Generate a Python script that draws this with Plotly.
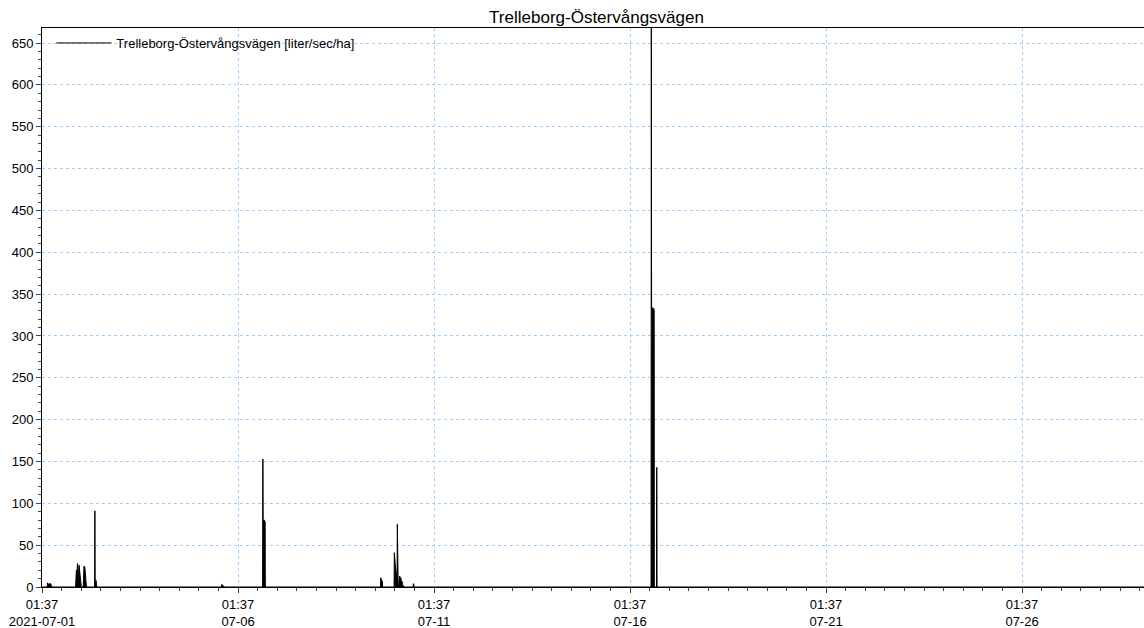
import plotly.graph_objects as go

station = "Trelleborg-Östervångsvägen"
unit = "liter/sec/ha"

# Runoff per hectare, explicit readings (zero between rain events)
times = [
    "2021-07-01 01:37",
    # 1 July, early morning drizzle
    "2021-07-01 04:50", "2021-07-01 05:00", "2021-07-01 05:30", "2021-07-01 06:10",
    "2021-07-01 06:50", "2021-07-01 07:20", "2021-07-01 07:40",
    # 1-2 July, night shower
    "2021-07-01 22:10", "2021-07-01 22:25", "2021-07-01 22:40", "2021-07-01 23:00",
    "2021-07-01 23:20", "2021-07-01 23:40", "2021-07-02 00:00", "2021-07-02 00:20",
    "2021-07-02 00:40", "2021-07-02 01:00", "2021-07-02 01:20", "2021-07-02 01:40",
    "2021-07-02 02:50", "2021-07-02 03:00", "2021-07-02 03:20", "2021-07-02 03:50",
    "2021-07-02 04:10", "2021-07-02 04:30", "2021-07-02 04:50",
    # 2 July, morning burst
    "2021-07-02 09:50", "2021-07-02 10:00", "2021-07-02 10:10", "2021-07-02 10:40",
    "2021-07-02 11:00", "2021-07-02 11:10",
    # 5 July
    "2021-07-05 15:30", "2021-07-05 15:40", "2021-07-05 16:20", "2021-07-05 17:00",
    "2021-07-05 17:20",
    # 6 July
    "2021-07-06 16:40", "2021-07-06 16:50", "2021-07-06 17:00", "2021-07-06 17:40",
    "2021-07-06 18:15", "2021-07-06 18:20",
    # 9 July
    "2021-07-09 16:50", "2021-07-09 17:00", "2021-07-09 17:30", "2021-07-09 18:00",
    "2021-07-09 18:10",
    # 10 July
    "2021-07-10 01:10", "2021-07-10 01:20", "2021-07-10 01:40", "2021-07-10 02:00",
    "2021-07-10 02:20", "2021-07-10 02:40", "2021-07-10 03:00", "2021-07-10 03:10",
    "2021-07-10 03:20", "2021-07-10 03:40", "2021-07-10 04:00", "2021-07-10 04:20",
    "2021-07-10 04:40", "2021-07-10 05:00", "2021-07-10 05:20", "2021-07-10 05:40",
    "2021-07-10 06:00", "2021-07-10 06:20", "2021-07-10 06:50", "2021-07-10 07:10",
    "2021-07-10 12:50", "2021-07-10 13:00", "2021-07-10 13:20", "2021-07-10 13:30",
    # 16 July, cloudburst
    "2021-07-16 14:30", "2021-07-16 14:40", "2021-07-16 14:50", "2021-07-16 15:10",
    "2021-07-16 15:30", "2021-07-16 15:50", "2021-07-16 16:10", "2021-07-16 16:25",
    "2021-07-16 16:30", "2021-07-16 17:50", "2021-07-16 18:00", "2021-07-16 18:10",
    "2021-07-29 04:18",
]
flow = [
    0,
    0, 5, 3, 4,
    4, 2, 0,
    0, 8, 20, 14,
    28, 22, 12, 26,
    18, 10, 4, 0,
    0, 6, 25, 24,
    15, 3, 0,
    0, 91, 0, 8,
    3, 0,
    0, 3, 2, 1,
    0,
    0, 153, 79, 80,
    78, 0,
    0, 11, 9, 6,
    0,
    0, 41, 28, 24,
    20, 6, 4, 75,
    5, 3, 2, 9,
    13, 6, 11, 4,
    7, 3, 1, 0,
    0, 4, 2, 0,
    0, 668, 333, 334,
    333, 332, 333, 330,
    0, 0, 143, 0,
    0,
]

tick_times = ["2021-07-01 01:37", "2021-07-06 01:37", "2021-07-11 01:37",
              "2021-07-16 01:37", "2021-07-21 01:37", "2021-07-26 01:37"]
tick_labels = ["01:37<br>2021-07-01", "01:37<br>07-06", "01:37<br>07-11",
               "01:37<br>07-16", "01:37<br>07-21", "01:37<br>07-26"]

x_range = ["2021-07-01 01:37", "2021-07-29 04:18"]
y_range = [0, 668]

FONT = "Liberation Sans, Arial, sans-serif"
GRID = "#9fcfff"

fig = go.Figure()
fig.add_trace(go.Scatter(
    x=times, y=flow, mode="lines", fill="tozeroy",
    line=dict(color="black", width=1), fillcolor="black",
    showlegend=False, hoverinfo="x+y",
))
# legend entry drawn as a plain line
fig.add_trace(go.Scatter(
    x=[None], y=[None], mode="lines",
    line=dict(color="black", width=1),
    name=f"{station} [{unit}]",
))

fig.update_layout(
    width=1144, height=628,
    margin=dict(l=42, r=0, t=28, b=41),
    paper_bgcolor="white", plot_bgcolor="white",
    font=dict(family=FONT, size=13, color="black"),
    title=dict(text=station, font=dict(size=17, color="black"),
               xref="container", x=596.5 / 1144, xanchor="center",
               y=1 - 17 / 628, yanchor="middle"),
    legend=dict(x=0.0085, y=1, xanchor="left", yanchor="top",
                bgcolor="rgba(0,0,0,0)", itemwidth=55,
                font=dict(size=13, color="black")),
    showlegend=True,
)

fig.update_xaxes(
    type="date", range=x_range,
    tickmode="array", tickvals=tick_times, ticktext=tick_labels,
    ticks="outside", ticklen=5, tickcolor="#444", tickwidth=1,
    showline=True, linecolor="black", linewidth=1, mirror=True,
    showgrid=True, gridcolor=GRID, griddash="dot", gridwidth=1,
    minor=dict(tick0="2021-07-01 01:37", dtick=12 * 3600 * 1000,
               ticks="outside", ticklen=3, tickcolor="#444", showgrid=False),
    zeroline=False,
)
fig.update_yaxes(
    range=y_range, dtick=50, tick0=0,
    ticks="outside", ticklen=5, tickcolor="#444", tickwidth=1,
    showline=True, linecolor="black", linewidth=1, mirror=False,
    showgrid=True, gridcolor=GRID, griddash="dot", gridwidth=1,
    minor=dict(dtick=10, ticks="outside", ticklen=3, tickcolor="#444", showgrid=False),
    zeroline=False,
)

fig.write_html("out.html")
